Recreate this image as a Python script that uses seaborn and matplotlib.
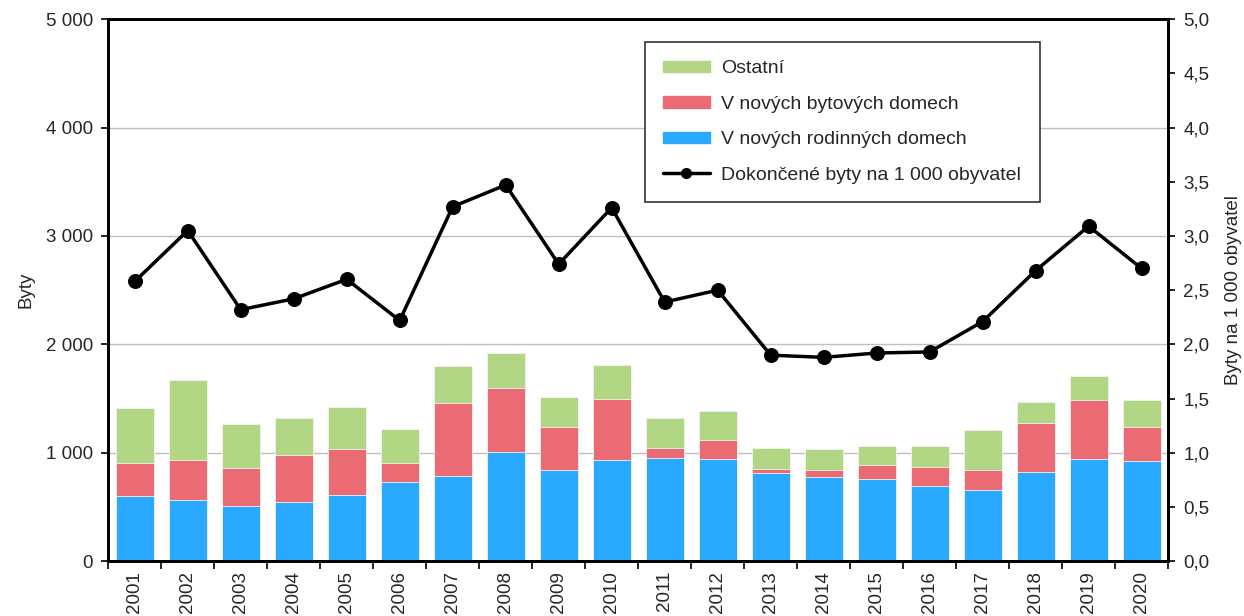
import numpy as np
import pandas as pd
import matplotlib
matplotlib.use('Agg')
import matplotlib.pyplot as plt
import seaborn as sns
from matplotlib.patches import Patch
from matplotlib.lines import Line2D
from matplotlib.ticker import FuncFormatter, MultipleLocator, FixedLocator

# data
years = [str(y) for y in range(2001, 2021)]
rodinne = [602, 565, 506, 546, 614, 731, 787, 1009, 843, 935,
           951, 938, 815, 775, 759, 691, 657, 824, 944, 923]
bytove = [302, 367, 355, 435, 423, 173, 670, 587, 395, 562,
          92, 182, 37, 65, 124, 179, 183, 451, 547, 315]
ostatni = [513, 738, 408, 340, 383, 312, 339, 324, 277, 312,
           275, 263, 191, 194, 176, 192, 373, 197, 213, 247]
na_1000 = [2.58, 3.05, 2.32, 2.42, 2.60, 2.22, 3.27, 3.47, 2.74, 3.26,
           2.39, 2.50, 1.90, 1.88, 1.92, 1.93, 2.21, 2.68, 3.09, 2.70]

c_blue = '#29A9FF'
c_red = '#EA6B73'
c_green = '#B1D684'

df = pd.DataFrame({'rok': years, 'rod': rodinne, 'byt': bytove, 'ost': ostatni})
df['s2'] = df['rod'] + df['byt']
df['s3'] = df['s2'] + df['ost']

sns.set_style('white')
plt.rcParams['font.family'] = ['Liberation Sans', 'DejaVu Sans']
plt.rcParams['font.size'] = 13.5

fig = plt.figure(figsize=(12.44, 6.16), dpi=100)
ax = fig.add_axes([0.087, 0.089, 0.852, 0.880])

# stacked bars drawn as overlapping cumulative totals
for col, c in [('s3', c_green), ('s2', c_red), ('rod', c_blue)]:
    sns.barplot(data=df, x='rok', y=col, color=c, width=0.72, saturation=1,
                edgecolor='#F4F4F4', linewidth=0.6, ax=ax, zorder=2)

ax.set_xlim(-0.5, len(years) - 0.5)
ax.set_ylim(0, 5000)
ax.yaxis.set_major_locator(MultipleLocator(1000))
ax.yaxis.set_major_formatter(FuncFormatter(lambda v, p: f"{int(v):,}".replace(',', ' ')))
ax.grid(axis='y', color='#C0C0C0', linewidth=1, zorder=0)
ax.set_axisbelow(True)
ax.set_xlabel('')
ax.set_ylabel('Byty', labelpad=8)
ax.tick_params(axis='x', which='major', length=0, rotation=90, pad=7)
ax.xaxis.set_minor_locator(FixedLocator(np.arange(-0.5, len(years), 1.0)))
ax.tick_params(axis='x', which='minor', length=6, width=1.2, color='black', bottom=True)
ax.tick_params(axis='y', length=5, width=1.2, color='black', left=True, pad=6)
for s in ['left', 'bottom', 'right', 'top']:
    ax.spines[s].set_color('black')
    ax.spines[s].set_linewidth(2)

ax2 = ax.twinx()
sns.lineplot(x=np.arange(len(years)), y=na_1000, color='black', linewidth=2.5,
             marker='o', markersize=10, markeredgecolor='black', ax=ax2)
ax2.set_ylim(0, 5)
ax2.yaxis.set_major_locator(MultipleLocator(0.5))
ax2.yaxis.set_major_formatter(FuncFormatter(lambda v, p: f"{v:.1f}".replace('.', ',')))
ax2.set_ylabel('Byty na 1 000 obyvatel', labelpad=11)
ax2.tick_params(axis='y', length=5, width=1.2, color='black', right=True, pad=6)
for s in ['left', 'bottom', 'right', 'top']:
    ax2.spines[s].set_color('black')
    ax2.spines[s].set_linewidth(2)

handles = [Patch(color=c_green, label='Ostatní'),
           Patch(color=c_red, label='V nových bytových domech'),
           Patch(color=c_blue, label='V nových rodinných domech'),
           Line2D([0], [0], color='black', linewidth=2.5, marker='o', markersize=7,
                  label='Dokončené byty na 1 000 obyvatel')]
leg = ax2.legend(handles=handles, loc='upper left', bbox_to_anchor=(0.506, 0.958),
                 frameon=True, fancybox=False, edgecolor='#333333', framealpha=1,
                 fontsize=14, handlelength=2.4, handleheight=0.55, labelspacing=0.95,
                 borderpad=0.95, handletextpad=0.6, borderaxespad=0)
leg.get_frame().set_linewidth(1.2)

fig.savefig('out.png', dpi=100)
